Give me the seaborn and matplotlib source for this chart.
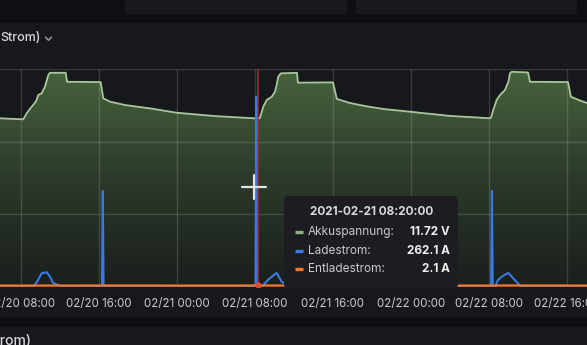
import numpy as np
import pandas as pd
import matplotlib
matplotlib.use("Agg")
import matplotlib.pyplot as plt
import matplotlib.dates as mdates
from matplotlib.patches import Rectangle, FancyBboxPatch
from matplotlib.colors import LinearSegmentedColormap
import seaborn as sns

# ---------------- data ----------------
volt_time = [
    "2021-02-20 05:52", "2021-02-20 07:00", "2021-02-20 08:16", "2021-02-20 08:37",
    "2021-02-20 09:08", "2021-02-20 09:28", "2021-02-20 09:38", "2021-02-20 09:48",
    "2021-02-20 10:09", "2021-02-20 10:29", "2021-02-20 10:50", "2021-02-20 11:00",
    "2021-02-20 12:37", "2021-02-20 12:45", "2021-02-20 16:12", "2021-02-20 16:28",
    "2021-02-20 17:10", "2021-02-20 18:42", "2021-02-20 21:16", "2021-02-21 00:00",
    "2021-02-21 03:56", "2021-02-21 07:51", "2021-02-21 08:14", "2021-02-21 08:32",
    "2021-02-21 08:53", "2021-02-21 09:14", "2021-02-21 09:45", "2021-02-21 10:05",
    "2021-02-21 10:15", "2021-02-21 10:25", "2021-02-21 10:40", "2021-02-21 12:20",
    "2021-02-21 12:26", "2021-02-21 16:02", "2021-02-21 16:25", "2021-02-21 17:46",
    "2021-02-21 19:29", "2021-02-21 21:10", "2021-02-21 23:56", "2021-02-22 04:02",
    "2021-02-22 08:08", "2021-02-22 08:14", "2021-02-22 08:28", "2021-02-22 08:49",
    "2021-02-22 09:10", "2021-02-22 09:40", "2021-02-22 10:01", "2021-02-22 10:11",
    "2021-02-22 10:21", "2021-02-22 12:02", "2021-02-22 12:14", "2021-02-22 16:08",
    "2021-02-22 16:26", "2021-02-22 17:22", "2021-02-22 18:05",
]
volt_value = [
    11.61, 11.57, 11.54, 11.96,
    12.41, 12.68, 12.87, 13.21,
    13.33, 13.78, 14.59, 14.74,
    14.74, 14.12, 14.10, 12.98,
    12.75, 12.52, 12.29, 11.99,
    11.76, 11.61, 11.60, 11.63,
    12.41, 12.87, 13.09, 13.44,
    13.90, 14.47, 14.70, 14.74,
    14.06, 14.08, 12.94, 12.66,
    12.43, 12.25, 12.06, 11.77,
    11.61, 11.65, 12.18, 12.87,
    13.21, 13.55, 14.12, 14.70,
    14.81, 14.76, 14.12, 14.10,
    13.09, 12.83, 12.66,
]

lade_time = [
    "2021-02-20 05:52", "2021-02-20 09:16", "2021-02-20 09:40", "2021-02-20 10:09",
    "2021-02-20 10:40", "2021-02-20 11:00", "2021-02-20 11:19", "2021-02-20 11:50",
    "2021-02-20 12:20", "2021-02-20 13:03", "2021-02-20 16:20", "2021-02-20 16:25",
    "2021-02-20 16:30", "2021-02-21 08:05", "2021-02-21 08:10", "2021-02-21 08:15",
    "2021-02-21 08:43", "2021-02-21 09:22", "2021-02-21 10:15", "2021-02-21 10:46",
    "2021-02-21 11:24", "2021-02-21 12:08", "2021-02-22 08:15", "2021-02-22 08:20",
    "2021-02-22 08:25", "2021-02-22 08:39", "2021-02-22 08:57", "2021-02-22 09:28",
    "2021-02-22 10:01", "2021-02-22 10:29", "2021-02-22 11:00", "2021-02-22 11:12",
    "2021-02-22 11:42", "2021-02-22 18:05",
]
lade_value = [
    0.0, 0.0, 7.0, 18.9,
    20.2, 14.2, 5.9, 2.5,
    1.0, 0.0, 0.0, 132.0,
    0.0, 0.0, 262.1, 0.0,
    0.0, 10.0, 19.4, 7.2,
    1.5, 0.0, 0.0, 132.5,
    0.0, 0.0, 9.6, 15.5,
    19.4, 12.4, 5.0, 1.4,
    0.0, 0.0,
]

entlade_time = [
    "2021-02-20 05:52", "2021-02-20 12:00", "2021-02-20 18:00", "2021-02-21 00:00",
    "2021-02-21 06:00", "2021-02-21 08:20", "2021-02-21 12:00", "2021-02-21 18:00",
    "2021-02-22 00:00", "2021-02-22 06:00", "2021-02-22 12:00", "2021-02-22 18:05",
]
entlade_value = [2.0, 2.0, 2.1, 2.0, 2.0, 2.1, 2.0, 2.1, 2.0, 2.0, 2.1, 2.0]

x_tick_times = [
    "2021-02-20 08:00", "2021-02-20 16:00", "2021-02-21 00:00", "2021-02-21 08:00",
    "2021-02-21 16:00", "2021-02-22 00:00", "2021-02-22 08:00", "2021-02-22 16:00",
]
volt_ticks = [0, 5, 10, 15]

tooltip_time = "2021-02-21 08:20:00"
tooltip_labels = ["Akkuspannung:", "Ladestrom:", "Entladestrom:"]
tooltip_values = ["11.72 V", "262.1 A", "2.1 A"]
hover_entlade = 2.1

# ---------------- style ----------------
PAGE = "#0e0f12"
PANEL = "#17181c"
GREEN_LINE = "#a9c69a"
BLUE = "#3b78e0"
ORANGE = "#f07a2a"
TEXT = "#c9cad3"

sns.set_theme(style="dark")
plt.rcParams["font.family"] = ["Inter", "DejaVu Sans"]

W, H = 587, 345
fig = plt.figure(figsize=(W / 100, H / 100), dpi=100)
fig.patch.set_facecolor(PAGE)

# background / chrome in pixel coordinates
bg = fig.add_axes([0, 0, 1, 1], zorder=-5)
bg.set_xlim(0, W)
bg.set_ylim(H, 0)
bg.axis("off")
bg.add_patch(Rectangle((125, -2), 222, 16.3, facecolor=PANEL, edgecolor="none"))
bg.add_patch(Rectangle((356, -2), 221, 16.3, facecolor=PANEL, edgecolor="none"))
bg.add_patch(Rectangle((-2, 22.7), W + 4, 294, facecolor=PANEL, edgecolor="none"))
bg.add_patch(Rectangle((-2, 327), W + 4, 30, facecolor=PANEL, edgecolor="none"))
bg.text(0.5, 38, "Strom)", color="#d8d9de", fontsize=9, fontweight="medium",
        va="center", ha="left")
bg.plot([45.5, 48.5, 51.5], [37.2, 40.2, 37.2], color="#9a9ba3", lw=1.1)
bg.text(32, 334, "trom)", color="#d8d9de", fontsize=10, fontweight="medium",
        va="top", ha="right")

# main plot axes
top_px, bot_px = 69, 287
ax = fig.add_axes([0, 1 - bot_px / H, 1, (bot_px - top_px) / H])
ax.set_facecolor(PANEL)

vt = pd.to_datetime(pd.Series(volt_time))
df_v = pd.DataFrame({"time": vt, "volt": volt_value})

x0 = pd.Timestamp("2021-02-20 05:52:30")
x1 = pd.Timestamp("2021-02-22 18:05:00")

# gradient-filled area
poly = ax.fill_between(df_v["time"], df_v["volt"], 0, color="none", lw=0)
cmap = LinearSegmentedColormap.from_list("g", ["#1a1f1c", "#2c3a2b", "#47633e"])
grad = np.linspace(0, 1, 256).reshape(-1, 1)
img = ax.imshow(grad, extent=[mdates.date2num(x0), mdates.date2num(x1), 0, 15],
                aspect="auto", cmap=cmap, origin="lower", zorder=1)
img.set_clip_path(poly.get_paths()[0], ax.transData)

sns.lineplot(data=df_v, x="time", y="volt", ax=ax, color=GREEN_LINE,
             linewidth=1.3, zorder=3)

ax.set_xlim(x0, x1)
ax.set_ylim(0, 15)
ax.set_yticks(volt_ticks)
ax.set_xticks(pd.to_datetime(x_tick_times))
ax.xaxis.set_major_formatter(mdates.DateFormatter("%m/%d %H:%M"))
ax.grid(True, color="white", alpha=0.14, lw=1)
ax.set_axisbelow(False)
for s in ax.spines.values():
    s.set_visible(False)
ax.tick_params(axis="y", left=False, labelleft=False)
ax.tick_params(axis="x", length=0, pad=8, labelsize=8.3, labelcolor=TEXT)
ax.set_xlabel("")
ax.set_ylabel("")

# currents on hidden second axis
ax2 = ax.twinx()
df_l = pd.DataFrame({"time": pd.to_datetime(lade_time), "amp": lade_value})
df_e = pd.DataFrame({"time": pd.to_datetime(entlade_time), "amp": entlade_value})
sns.lineplot(data=df_l, x="time", y="amp", ax=ax2, color=BLUE, linewidth=1.5)
sns.lineplot(data=df_e, x="time", y="amp", ax=ax2, color=ORANGE, linewidth=1.6)
hover_t = pd.Timestamp(tooltip_time)
ax2.axvline(hover_t, color="#b8283a", lw=1.2, alpha=0.9)
ax2.plot([hover_t], [hover_entlade], marker="o", ms=3.5, color="#e0502a")
ax2.set_ylim(0, 300)
ax2.set_xlim(x0, x1)
ax2.axis("off")

# overlay: cursor + tooltip (pixel coordinates)
ov = fig.add_axes([0, 0, 1, 1], zorder=10)
ov.set_xlim(0, W)
ov.set_ylim(H, 0)
ov.axis("off")
ov.patch.set_alpha(0)
ov.plot([241.7, 266], [186.7, 186.7], color="#e4e4e4", lw=1.6)
ov.plot([254, 254], [175, 199], color="#e4e4e4", lw=1.6)

ov.add_patch(FancyBboxPatch((284, 196), 174, 92, boxstyle="round,pad=0,rounding_size=4",
                            facecolor="#1c1d21", edgecolor="none"))
ov.text(371.5, 212, tooltip_time, color="#d8d9de", fontsize=8.5, fontweight="bold",
        ha="center", va="center")
row_y = [232.3, 250.7, 269]
row_col = ["#8fb07f", BLUE, ORANGE]
for lab, val, yy, c in zip(tooltip_labels, tooltip_values, row_y, row_col):
    ov.plot([295, 303], [yy, yy], color=c, lw=2.4, solid_capstyle="butt")
    ov.text(308, yy, lab, color=TEXT, fontsize=8.5, ha="left", va="center")
    ov.text(450, yy, val, color="#eeeeee", fontsize=8.5, fontweight="bold",
            ha="right", va="center")

fig.savefig("out.png", dpi=100, facecolor=fig.get_facecolor())
